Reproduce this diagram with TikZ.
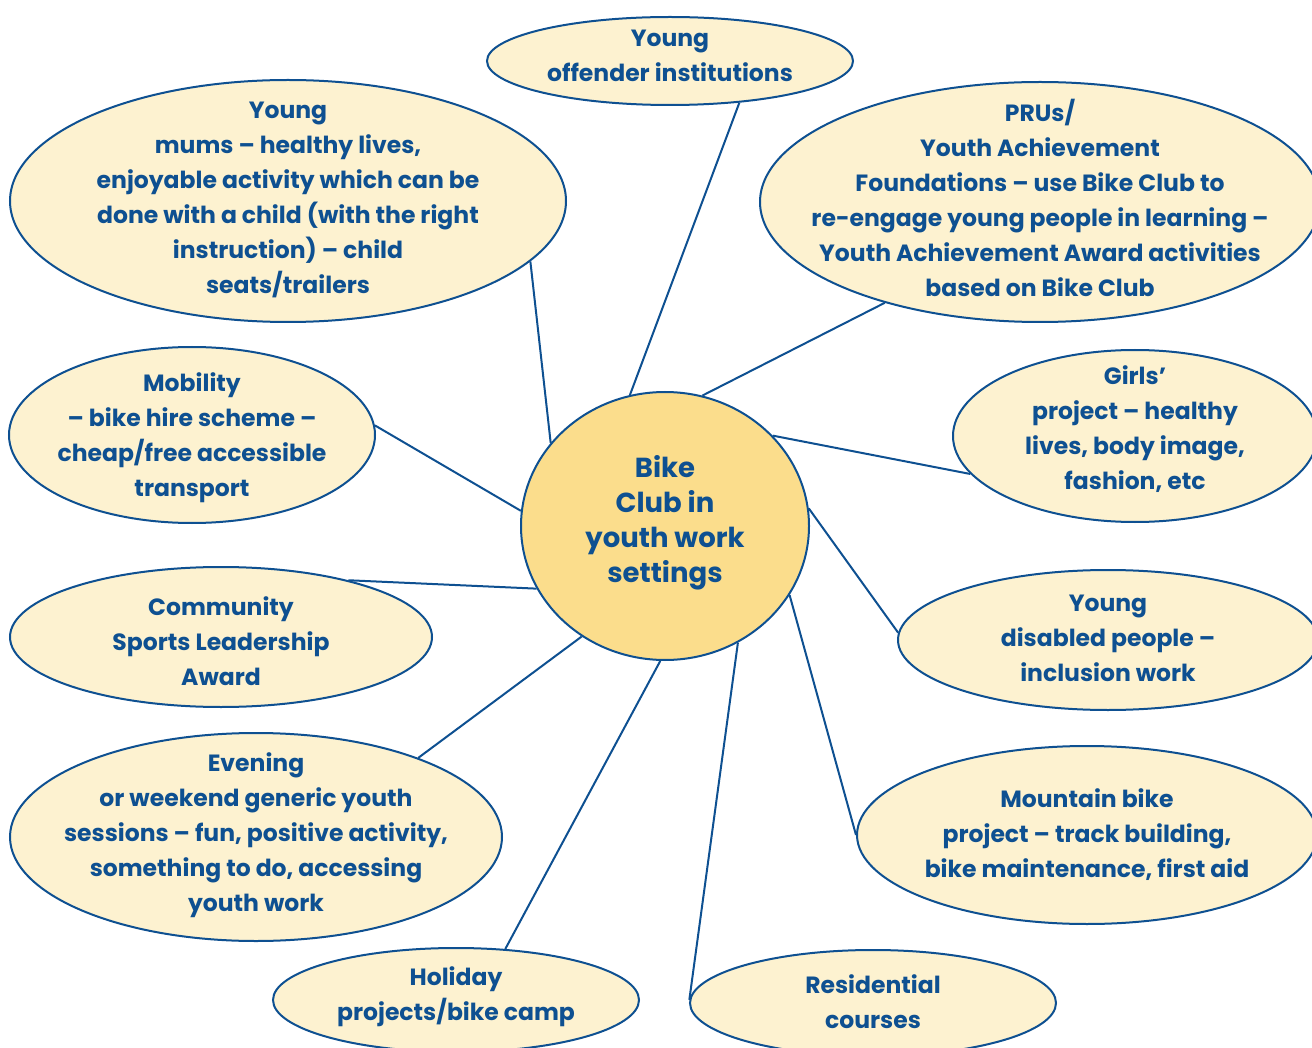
\documentclass[tikz,border=0pt]{standalone}
\usepackage{fontspec}
\setmainfont{Poppins}
\usetikzlibrary{shapes,positioning}
\definecolor{clubblue}{RGB}{14,80,145}
\definecolor{cream}{RGB}{253,242,208}
\definecolor{sun}{RGB}{251,221,140}
\tikzset{x=1pt, y=-1pt, % page units, y runs downwards
bubble/.style={ellipse, draw=clubblue, line width=2pt, fill=cream, inner sep=0pt}, % the oval round each setting
hub/.style={bubble, fill=sun}, % the centre circle
txt/.style={align=center, text=clubblue, font=\fontsize{23.5}{35}\selectfont\bfseries}, % text inside an oval
hubtxt/.style={txt, font=\fontsize{27.5}{35}\selectfont\bfseries},
link/.style={draw=clubblue, line width=2pt}, % spokes
}
\begin{document}
\begin{tikzpicture}
\useasboundingbox (0,0) rectangle (1312,1048);
\clip (0,0) rectangle (1312,1048);
\node[hub, minimum width=288pt, minimum height=268pt] (hub) at (665,526) {};
\node[bubble, minimum width=366pt, minimum height=88pt] (offender) at (670,61) {};
\node[bubble, minimum width=556pt, minimum height=242pt] (mums) at (288,201) {};
\node[bubble, minimum width=560pt, minimum height=240pt] (pru) at (1040,202) {};
\node[bubble, minimum width=366pt, minimum height=176pt] (mobility) at (192,435) {};
\node[bubble, minimum width=364pt, minimum height=172pt] (girls) at (1135,436) {};
\node[bubble, minimum width=422pt, minimum height=140pt] (community) at (221,637) {};
\node[bubble, minimum width=420pt, minimum height=140pt] (disabled) at (1108,640) {};
\node[bubble, minimum width=492pt, minimum height=208pt] (evening) at (256,837) {};
\node[bubble, minimum width=460pt, minimum height=178pt] (mountain) at (1087,835) {};
\node[bubble, minimum width=366pt, minimum height=104pt] (holiday) at (456,1000) {};
\node[bubble, minimum width=366pt, minimum height=106pt] (residential) at (873,1003) {};
% labels
\node[hubtxt] (hubt) at ([yshift=3pt]hub) {Bike\\Club in\\youth work\\settings};
\node[txt] (offendert) at ([yshift=5pt]offender) {Young\\offender institutions};
\node[txt] (mumst) at ([yshift=1pt]mums) {Young\\mums -- healthy lives,\\enjoyable activity which can be\\done with a child (with the right\\instruction) -- child\\seats/trailers};
\node[txt] (prut) at ([yshift=4pt]pru) {PRUs/\\Youth Achievement\\Foundations -- use Bike Club to\\re-engage young people in learning --\\Youth Achievement Award activities\\based on Bike Club};
\node[txt] (mobilityt) at ([yshift=-3pt]mobility) {Mobility\\-- bike hire scheme --\\cheap/free accessible\\transport};
\node[txt] (girlst) at ([yshift=7pt]girls) {Girls'\\project -- healthy\\lives, body image,\\fashion, etc};
\node[txt] (communityt) at ([yshift=-4pt]community) {Community\\Sports Leadership\\Award};
\node[txt] (disabledt) at ([yshift=2pt]disabled) {Young\\disabled people --\\inclusion work};
\node[txt] (eveningt) at ([yshift=2pt]evening) {Evening\\or weekend generic youth\\sessions -- fun, positive activity,\\something to do, accessing\\youth work};
\node[txt] (mountaint) at ([yshift=0pt]mountain) {Mountain bike\\project -- track building,\\bike maintenance, first aid};
\node[txt] (holidayt) at ([yshift=3pt]holiday) {Holiday\\projects/bike camp};
\node[txt] (residentialt) at ([yshift=1pt]residential) {Residential\\courses};
\draw[link] (hub.105) edge (offender.-31)
(hub.144) edge (mums.-14)
(hub.74) edge (pru.213)
(hub.174) edge (mobility.3)
(hub.40) edge (girls.193)
(hub.206) edge (community.24)
(hub.7) edge (disabled.178)
(hub.233) edge (evening.26)
(hub.268) edge (holiday.46)
(hub.302) edge (residential.179)
(hub.331) edge (mountain.180);
\end{tikzpicture}
\end{document}
